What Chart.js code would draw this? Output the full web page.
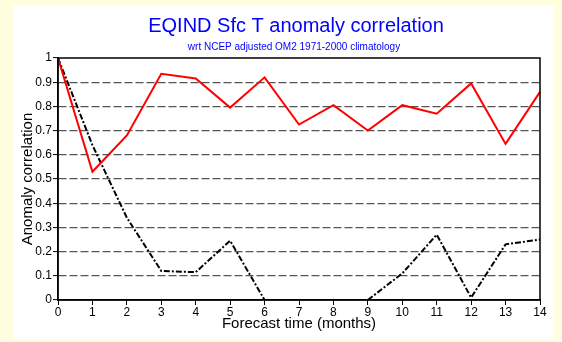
<!DOCTYPE html>
<html>
<head>
<meta charset="utf-8">
<script src="https://cdn.jsdelivr.net/npm/chart.js@4.4.1/dist/chart.umd.min.js"></script>
<style>
  html, body { margin: 0; padding: 0; background: #ffffe0; }
  canvas { display: block; }
</style>
</head>
<body>
<canvas id="acChart" width="562" height="342"></canvas>
<script>
// forecast lead in months
const months = ['0', '1', '2', '3', '4', '5', '6', '7', '8', '9', '10', '11', '12', '13', '14'];
// anomaly correlation, model forecast (red)
const modelCorr = [1.0, 0.53, 0.68, 0.935, 0.915, 0.795, 0.92, 0.725, 0.805, 0.70, 0.805, 0.77, 0.895, 0.645, 0.86];
// anomaly correlation, persistence (black); 7 and 8 fall below the axis
const persistCorr = [1.0, 0.64, 0.34, 0.12, 0.115, 0.245, 0.0, null, null, 0.0, 0.11, 0.27, 0.01, 0.23, 0.25];
const yTicks = [0, 0.1, 0.2, 0.3, 0.4, 0.5, 0.6, 0.7, 0.8, 0.9, 1];

const FONT = '"Liberation Sans", Arial, Helvetica, sans-serif';

// white panel behind the plot, titles and the frame around the plot area
const panelPlugin = {
  id: 'panel',
  beforeDraw(chart) {
    const ctx = chart.ctx;
    ctx.save();
    ctx.fillStyle = '#ffffff';
    ctx.fillRect(13, 5, 541, 334);
    ctx.restore();
  },
  afterDraw(chart) {
    const ctx = chart.ctx;
    const a = chart.chartArea;
    ctx.save();
    ctx.strokeStyle = '#000';
    ctx.lineWidth = 1.5;
    ctx.strokeRect(a.left, a.top, a.right - a.left, a.bottom - a.top);

    ctx.fillStyle = '#0000ff';
    ctx.textAlign = 'center';
    ctx.textBaseline = 'alphabetic';
    ctx.font = '20px ' + FONT;
    ctx.fillText('EQIND Sfc T anomaly correlation', 296, 32);
    ctx.font = '10px ' + FONT;
    ctx.fillText('wrt NCEP adjusted OM2 1971-2000 climatology', 294, 50);
    ctx.restore();
  }
};

new Chart(document.getElementById('acChart'), {
  type: 'line',
  data: {
    labels: months,
    datasets: [
      {
        data: modelCorr,
        borderColor: '#ff0000',
        borderWidth: 2,
        pointRadius: 0,
        tension: 0
      },
      {
        data: persistCorr,
        borderColor: '#000000',
        borderWidth: 2,
        borderDash: [6, 2, 2, 2],
        pointRadius: 0,
        tension: 0,
        spanGaps: false
      }
    ]
  },
  options: {
    responsive: false,
    animation: false,
    layout: { padding: { left: 13, top: 58, right: 22, bottom: 0 } },
    plugins: { legend: { display: false }, tooltip: { enabled: false } },
    scales: {
      x: {
        type: 'category',
        offset: false,
        afterFit(scale) { scale.height = 42; },
        grid: {
          drawOnChartArea: false,
          drawTicks: true,
          tickLength: 5,
          tickColor: '#000',
          tickWidth: 1
        },
        border: { display: true, color: '#000', width: 1.5 },
        ticks: {
          color: '#000',
          font: { family: FONT, size: 12 },
          padding: 0,
          maxRotation: 0,
          autoSkip: false
        },
        title: {
          display: true,
          text: 'Forecast time (months)',
          color: '#000',
          font: { family: FONT, size: 15 },
          padding: { top: 0, bottom: 9.5 }
        }
      },
      y: {
        min: 0,
        max: 1,
        afterFit(scale) { scale.width = 45; },
        afterBuildTicks(scale) { scale.ticks = yTicks.map(v => ({ value: v })); },
        grid: {
          color(ctx) {
            const v = ctx.tick ? ctx.tick.value : 0;
            return (v <= 0.001 || v >= 0.999) ? 'rgba(0,0,0,0)' : '#555555';
          },
          lineWidth: 1.2,
          drawTicks: true,
          tickLength: 5,
          tickColor: '#000',
          tickWidth: 1
        },
        border: { display: true, color: '#000', width: 1.5, dash: [8, 3] },
        ticks: {
          color: '#000',
          font: { family: FONT, size: 12 },
          padding: 1,
          callback: v => String(Math.round(v * 10) / 10)
        },
        title: {
          display: true,
          text: 'Anomaly correlation',
          color: '#000',
          font: { family: FONT, size: 15 },
          padding: { top: 6, bottom: 0 }
        }
      }
    }
  },
  plugins: [panelPlugin]
});
</script>
</body>
</html>
